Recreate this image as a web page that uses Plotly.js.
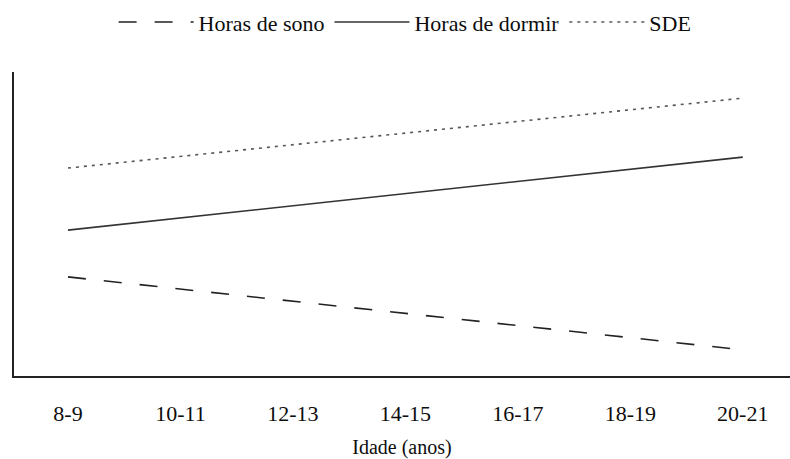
<!DOCTYPE html>
<html>
<head>
<meta charset="utf-8">
<script src="https://cdn.plot.ly/plotly-3.0.1.min.js"></script>
<style>
html,body{margin:0;padding:0;background:#fff;}
#chart{width:790px;height:459px;}
#chart svg text{font-family:'Liberation Serif', serif !important;}
</style>
</head>
<body>
<div id="chart"></div>
<script>
const ageGroups = ['8-9', '10-11', '12-13', '14-15', '16-17', '18-19', '20-21'];
const horasSono   = [3.26, null, null, null, null, null, 0.86];
const horasDormir = [4.80, null, null, null, null, null, 7.20];
const sde         = [6.84, null, null, null, null, null, 9.14];
const seriesNames = ['Horas de sono', 'Horas de dormir', 'SDE'];

const fontFam = 'Liberation Serif';
const txtCol = '#0d0d0d';

const traces = [
  {x: ageGroups, y: horasSono, name: seriesNames[0], mode: 'lines', connectgaps: true,
   line: {color: '#222', width: 1.6, dash: '18px,18px'}},
  {x: ageGroups, y: horasDormir, name: seriesNames[1], mode: 'lines', connectgaps: true,
   line: {color: '#333', width: 1.6}},
  {x: ageGroups, y: sde, name: seriesNames[2], mode: 'lines', connectgaps: true,
   line: {color: '#555', width: 1.6, dash: '3px,5px'}}
];

const layout = {
  width: 790, height: 459,
  margin: {l: 14, r: 0, t: 72, b: 83},
  paper_bgcolor: '#fff', plot_bgcolor: '#fff',
  font: {family: fontFam, color: txtCol, size: 20},
  showlegend: true,
  legend: {orientation: 'h', x: 0.504, xanchor: 'center', y: 1.164, yanchor: 'middle',
           font: {family: fontFam, size: 22, color: txtCol}, itemwidth: 75,
           bgcolor: 'rgba(0,0,0,0)'},
  xaxis: {type: 'category', categoryorder: 'array', categoryarray: ageGroups,
          range: [-0.48, 6.42], showline: true, linecolor: '#222', linewidth: 2,
          showgrid: false, zeroline: false, ticks: '', ticklabelstandoff: 17,
          tickfont: {family: fontFam, size: 22, color: txtCol},
          title: {text: 'Idade (anos)', font: {family: fontFam, size: 20, color: txtCol}, standoff: 18}},
  yaxis: {range: [0, 10], showline: true, linecolor: '#222', linewidth: 2,
          showgrid: false, zeroline: false, ticks: '', showticklabels: false}
};

Plotly.newPlot('chart', traces, layout, {displayModeBar: false, staticPlot: true});
</script>
</body>
</html>
